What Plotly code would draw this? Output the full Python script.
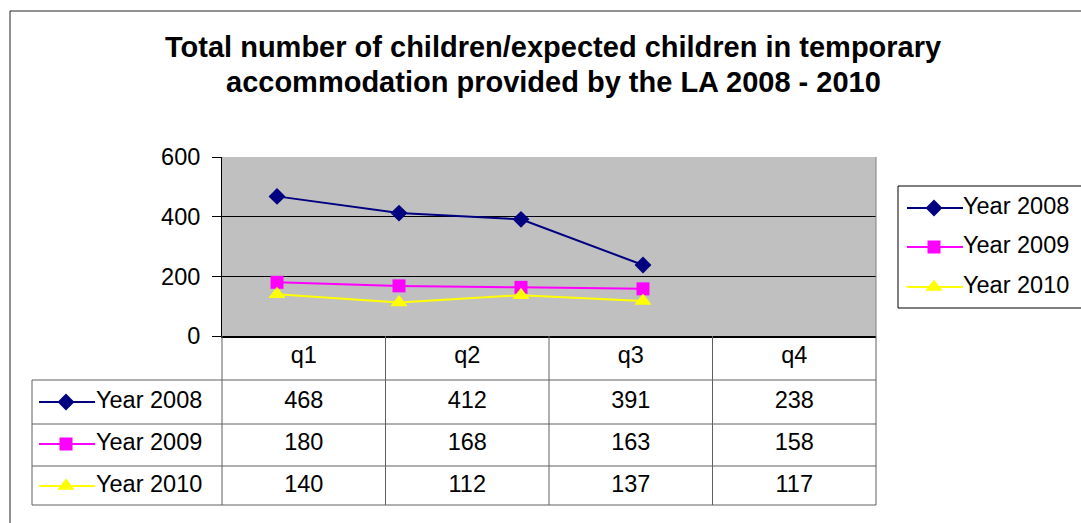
import plotly.graph_objects as go

# ---------------- data ----------------
quarters = ["q1", "q2", "q3", "q4"]
series_names = ["Year 2008", "Year 2009", "Year 2010"]
year_2008 = [468, 412, 391, 238]
year_2009 = [180, 168, 163, 158]
year_2010 = [140, 112, 137, 117]
y_ticks = [0, 200, 400, 600]

series_values = [year_2008, year_2009, year_2010]
colors = ["#000080", "#FF00FF", "#FFFF00"]
symbols = ["diamond", "square", "triangle-up"]
msizes = [13, 13, 15]

W, H = 1081, 523
FONT = "Liberation Sans, Arial, sans-serif"
FS = 23.5

# plot area in pixels
PL, PR, PT, PB = 222, 876, 157, 336
# table rows (pixels)
ROW_LINES = [380, 424, 466, 505]
HEAD_Y = 357
ROW_Y = [402, 444, 486]
TABLE_LEFT = 32

def px(x):
    return x / W

def py(y):
    return 1 - y / H

fig = go.Figure()

# main line traces
for name, vals, c, s, ms in zip(series_names, series_values, colors, symbols, msizes):
    fig.add_trace(go.Scatter(
        x=quarters, y=vals, mode="lines+markers", name=name,
        line=dict(color=c, width=2),
        marker=dict(symbol=s, size=ms, color=c, line=dict(width=0)),
        showlegend=False, xaxis="x", yaxis="y", hoverinfo="skip"))

# ---- pixel overlay (x2/y2) for table & legend ----
col_w = (PR - PL) / len(quarters)
col_centers = [PL + col_w * (i + 0.5) for i in range(len(quarters))]

fig.add_trace(go.Scatter(
    x=col_centers, y=[HEAD_Y] * len(quarters), text=quarters, mode="text",
    textfont=dict(family=FONT, size=FS, color="black"),
    xaxis="x2", yaxis="y2", showlegend=False, hoverinfo="skip"))

for vals, ry in zip(series_values, ROW_Y):
    fig.add_trace(go.Scatter(
        x=col_centers, y=[ry] * len(vals), text=[str(v) for v in vals], mode="text",
        textfont=dict(family=FONT, size=FS, color="black"),
        xaxis="x2", yaxis="y2", showlegend=False, hoverinfo="skip"))

def key(x0, xm, x1, yy, c, s, ms, label, tx):
    fig.add_trace(go.Scatter(
        x=[x0, x1], y=[yy, yy], mode="lines",
        line=dict(color=c, width=2),
        xaxis="x2", yaxis="y2", showlegend=False, hoverinfo="skip"))
    fig.add_trace(go.Scatter(
        x=[xm], y=[yy], mode="markers",
        marker=dict(symbol=s, size=ms, color=c, line=dict(width=0)),
        xaxis="x2", yaxis="y2", showlegend=False, hoverinfo="skip"))
    fig.add_trace(go.Scatter(
        x=[tx], y=[yy], text=[label], mode="text", textposition="middle right",
        textfont=dict(family=FONT, size=FS, color="black"),
        xaxis="x2", yaxis="y2", showlegend=False, hoverinfo="skip"))

LEG_Y = [208, 247, 287]
for i, (name, c, s, ms) in enumerate(zip(series_names, colors, symbols, msizes)):
    key(39, 66, 95, ROW_Y[i], c, s, ms, name, 96)
    key(907, 934, 963, LEG_Y[i], c, s, ms, name, 963)

shapes = []
shapes.append(dict(type="rect", xref="paper", yref="paper",
                   x0=px(PL), x1=px(PR), y0=py(PB), y1=py(PT),
                   fillcolor="#C0C0C0", line=dict(width=0), layer="below"))
shapes.append(dict(type="line", xref="x2", yref="y2", x0=PR, x1=PR, y0=PT, y1=PB,
                   line=dict(color="#808080", width=1)))
gc = "#606060"
for i in range(len(quarters) + 1):
    xx = PL + col_w * i
    shapes.append(dict(type="line", xref="x2", yref="y2", x0=xx, x1=xx, y0=PB, y1=ROW_LINES[-1],
                       line=dict(color=gc, width=1)))
shapes.append(dict(type="line", xref="x2", yref="y2", x0=TABLE_LEFT, x1=TABLE_LEFT,
                   y0=ROW_LINES[0], y1=ROW_LINES[-1], line=dict(color=gc, width=1)))
for yy in ROW_LINES:
    shapes.append(dict(type="line", xref="x2", yref="y2", x0=TABLE_LEFT, x1=PR, y0=yy, y1=yy,
                       line=dict(color=gc, width=1)))
shapes.append(dict(type="rect", xref="x2", yref="y2", x0=898, x1=1095, y0=186, y1=308,
                   line=dict(color="black", width=1), fillcolor="rgba(0,0,0,0)"))
shapes.append(dict(type="line", xref="x2", yref="y2", x0=10, x1=10, y0=11, y1=H + 5,
                   line=dict(color="#222222", width=1)))
shapes.append(dict(type="line", xref="x2", yref="y2", x0=10, x1=W + 5, y0=11, y1=11,
                   line=dict(color="#222222", width=1)))

title_lines = ["Total number of children/expected children in temporary",
               "accommodation provided by the LA 2008 - 2010"]
annotations = []
for t, yy in zip(title_lines, [47, 82]):
    annotations.append(dict(text="<b>%s</b>" % t, xref="paper", yref="paper",
                            x=px(553), y=py(yy), xanchor="center", yanchor="middle",
                            showarrow=False, font=dict(family=FONT, size=29, color="black")))

fig.update_layout(
    width=W, height=H,
    margin=dict(l=0, r=0, t=0, b=0, pad=0, autoexpand=False),
    paper_bgcolor="white", plot_bgcolor="rgba(0,0,0,0)",
    showlegend=False,
    xaxis=dict(domain=[px(PL), px(PR)], type="category", categoryarray=quarters,
               range=[-0.451, 4.91], showticklabels=False, ticks="", showgrid=False,
               zeroline=False, showline=True, linecolor="black", linewidth=2,
               anchor="y", fixedrange=True, automargin=False),
    yaxis=dict(domain=[py(PB), py(PT)], range=[0, 600], tickvals=y_ticks,
               showgrid=True, gridcolor="black", gridwidth=1, zeroline=False,
               showline=True, linecolor="black", linewidth=1,
               ticks="outside", ticklen=9, tickcolor="black", tickwidth=1,
               ticklabelstandoff=7,
               tickfont=dict(family=FONT, size=FS, color="black"),
               anchor="x", fixedrange=True, automargin=False),
    xaxis2=dict(domain=[0, 1], range=[0, W], visible=False, anchor="y2",
                fixedrange=True, automargin=False),
    yaxis2=dict(domain=[0, 1], range=[H, 0], visible=False, anchor="x2",
                fixedrange=True, automargin=False),
    shapes=shapes,
    annotations=annotations,
)

fig.write_html("out.html", config={"displayModeBar": False},
               post_script="document.body.style.margin='0px';")
